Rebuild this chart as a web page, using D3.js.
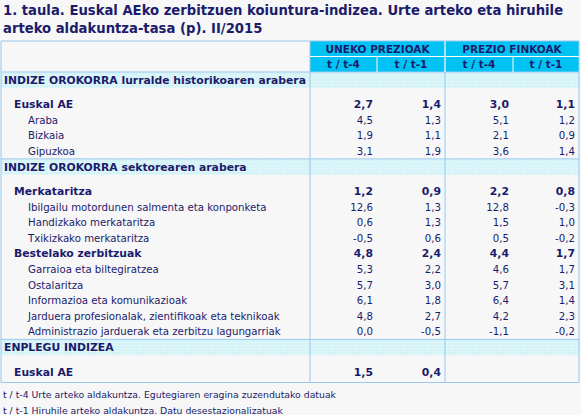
<!DOCTYPE html>
<html><head><meta charset="utf-8">
<script src="https://cdn.jsdelivr.net/npm/d3@7"></script>
<style>body{margin:0;background:#f7f7f7}svg{display:block}</style>
</head><body>
<script>
const titleLines=["1. taula. Euskal AEko zerbitzuen koiuntura-indizea. Urte arteko eta hiruhile","arteko aldakuntza-tasa (p).  II/2015"];
const groupHeaders=["UNEKO PREZIOAK","PREZIO FINKOAK"];
const subHeaders=["t / t-4","t / t-1","t / t-4","t / t-1"];
// type: s=section, b=bold, i=indented, g=gap
const rowLabels=["INDIZE OROKORRA lurralde historikoaren arabera","","Euskal AE","Araba","Bizkaia","Gipuzkoa","INDIZE OROKORRA sektorearen arabera","","Merkataritza","Ibilgailu motordunen salmenta eta konponketa","Handizkako merkataritza","Txikizkako merkataritza","Bestelako zerbitzuak","Garraioa eta biltegiratzea","Ostalaritza","Informazioa eta komunikazioak","Jarduera profesionalak, zientifikoak eta teknikoak","Administrazio jarduerak eta zerbitzu lagungarriak","ENPLEGU INDIZEA","","Euskal AE"];
const rowTypes=["s","g","b","i","i","i","s","g","b","i","i","i","b","i","i","i","i","i","s","g","b"];
const unekoT4=[null,null,"2,7","4,5","1,9","3,1",null,null,"1,2","12,6","0,6","-0,5","4,8","5,3","5,7","6,1","4,8","0,0",null,null,"1,5"];
const unekoT1=[null,null,"1,4","1,3","1,1","1,9",null,null,"0,9","1,3","1,3","0,6","2,4","2,2","3,0","1,8","2,7","-0,5",null,null,"0,4"];
const finkoT4=[null,null,"3,0","5,1","2,1","3,6",null,null,"2,2","12,8","1,5","0,5","4,4","4,6","5,7","6,4","4,2","-1,1",null,null,null];
const finkoT1=[null,null,"1,1","1,2","0,9","1,4",null,null,"0,8","-0,3","1,0","-0,2","1,7","1,7","3,1","1,4","2,3","-0,2",null,null,null];
const notes=["t / t-4 Urte arteko aldakuntza. Egutegiaren eragina zuzendutako datuak","t / t-1 Hiruhile arteko aldakuntza. Datu desestazionalizatuak"];
const source="Iturria: Eustat. Zerbitzuen koiuntura-indizea";

const W=581,H=415,navy="#1b1b6b",border="#99c8f0",hdr="#00c3f3",sec="#d6f3f7";
const svg=d3.select("body").append("svg").attr("width",W).attr("height",H).style("font-family","'DejaVu Sans',Verdana,sans-serif");
svg.append("rect").attr("width",W).attr("height",H).attr("fill","#f7f7f7");
const defs=svg.append("defs");
const pat=defs.append("pattern").attr("id","dots").attr("width",3).attr("height",3).attr("patternUnits","userSpaceOnUse");
pat.append("rect").attr("width",3).attr("height",3).attr("fill",sec);
pat.append("rect").attr("width",1).attr("height",1).attr("fill","#f0fbfc");
titleLines.forEach((t,i)=>svg.append("text").attr("x",3).attr("y",15+i*18).attr("fill",navy).attr("font-size",13.2).attr("font-weight","bold").text(t));

const colEdges=[1,310,377,445,513,579];
const x=d3.scaleOrdinal().domain(d3.range(6)).range(colEdges);
const top0=41,hRow=15.5;
const rh=rowTypes.map(t=>t==="s"?16:t==="g"?8.5:15.6);
const ys=[];let acc=top0+2*hRow;rh.forEach(h=>{ys.push(acc);acc+=h;});
const bottom=acc+3;

svg.append("rect").attr("x",x(1)).attr("y",top0).attr("width",x(5)-x(1)).attr("height",2*hRow).attr("fill",hdr);
groupHeaders.forEach((g,i)=>svg.append("text").attr("x",(x(1+2*i)+x(3+2*i))/2).attr("y",top0+11.5).attr("text-anchor","middle").attr("font-size",10.5).attr("font-weight","bold").attr("fill",navy).text(g));
subHeaders.forEach((s,i)=>svg.append("text").attr("x",(x(1+i)+x(2+i))/2).attr("y",top0+hRow+11.5).attr("text-anchor","middle").attr("font-size",10.5).attr("font-weight","bold").attr("fill",navy).text(s));

const cols=[unekoT4,unekoT1,finkoT4,finkoT1];
rowLabels.forEach((lab,i)=>{
  const t=rowTypes[i],yy=ys[i];
  if(t==="s"){svg.append("rect").attr("x",x(0)).attr("y",yy).attr("width",x(5)-x(0)).attr("height",rh[i]).attr("fill","url(#dots)");}
  if(t==="g")return;
  const fs=t==="i"?10.2:10.8;
  svg.append("text").attr("x",t==="s"?4:t==="b"?14:28).attr("y",yy+rh[i]-4).attr("font-size",fs).attr("font-weight",t==="i"?"normal":"bold").attr("fill",navy).text(lab);
  cols.forEach((c,j)=>{if(c[i]!=null)svg.append("text").attr("x",x(j+2)-4).attr("y",yy+rh[i]-4).attr("text-anchor","end").attr("font-size",fs).attr("font-weight",t==="b"?"bold":"normal").attr("fill",navy).text(c[i]);});
});
const ln=(x1,y1,x2,y2)=>svg.append("line").attr("x1",x1).attr("y1",y1).attr("x2",x2).attr("y2",y2).attr("stroke",border).attr("stroke-width",1);
ln(x(0),top0,x(5),top0);ln(x(0),bottom,x(5),bottom);
ln(x(0),top0+2*hRow,x(5),top0+2*hRow);
[0,1,3,5].forEach(k=>ln(x(k),top0,x(k),bottom));
rowTypes.forEach((t,i)=>{if(t==="s"&&i>0)ln(x(0),ys[i],x(5),ys[i]);});
[2,4].forEach(k=>svg.append("line").attr("x1",x(k)).attr("x2",x(k)).attr("y1",top0+hRow).attr("y2",top0+2*hRow).attr("stroke","#fff"));
svg.append("line").attr("x1",x(1)).attr("x2",x(5)).attr("y1",top0+hRow).attr("y2",top0+hRow).attr("stroke","#fff");
svg.append("line").attr("x1",x(3)).attr("x2",x(3)).attr("y1",top0).attr("y2",top0+2*hRow).attr("stroke","#fff");

notes.forEach((n,i)=>svg.append("text").attr("x",3).attr("y",bottom+15+i*16).attr("font-size",9.3).attr("fill",navy).text(n));
svg.append("text").attr("x",3).attr("y",bottom+15+2*16+4).attr("font-size",9.5).attr("font-weight","bold").attr("font-style","italic").attr("fill",navy).text(source);
</script>
</body></html>
